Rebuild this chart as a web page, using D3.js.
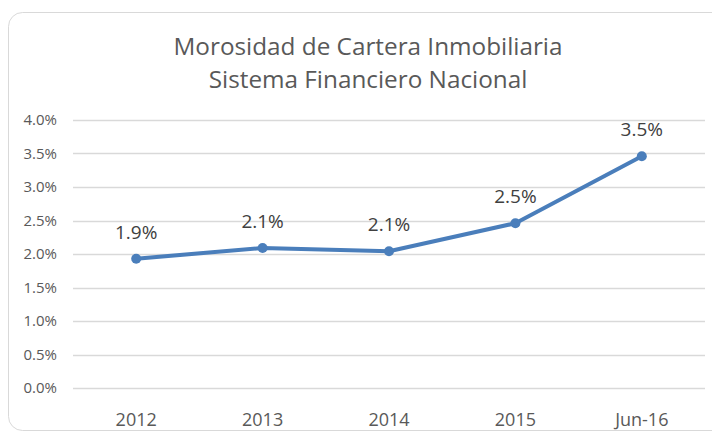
<!DOCTYPE html>
<html>
<head>
<meta charset="utf-8">
<script src="https://cdn.jsdelivr.net/npm/d3@7"></script>
<style>
  body { margin: 0; background: #fff; }
  svg text { font-family: "Open Sans", "Noto Sans", sans-serif; fill: #595959; }
</style>
</head>
<body>
<div id="chart"></div>
<script>
// data
var categories = ["2012", "2013", "2014", "2015", "Jun-16"];
var morosidad = [0.0193, 0.0209, 0.0204, 0.0246, 0.0346];
var labels = ["1.9%", "2.1%", "2.1%", "2.5%", "3.5%"];
var yTicks = [0, 0.005, 0.01, 0.015, 0.02, 0.025, 0.03, 0.035, 0.04];
var titleLines = ["Morosidad de Cartera Inmobiliaria", "Sistema Financiero Nacional"];

var W = 712, H = 434;
var margin = {top: 120, right: 7, bottom: 46, left: 73},
    width = W - margin.left - margin.right,
    height = H - margin.top - margin.bottom;

var root = d3.select("#chart").append("svg")
    .attr("width", W)
    .attr("height", H);

// outer frame
root.append("rect")
    .attr("x", 8.5).attr("y", 12.5)
    .attr("width", 720).attr("height", 418)
    .attr("rx", 14).attr("ry", 14)
    .attr("fill", "#fff")
    .attr("stroke", "#d9d9d9");

// title
root.append("text")
    .attr("text-anchor", "middle")
    .attr("font-size", "24.3px")
    .selectAll("tspan")
    .data(titleLines)
    .enter().append("tspan")
    .attr("x", 368)
    .attr("y", function(d, i) { return 55 + i * 33; })
    .text(function(d) { return d; });

var svg = root.append("g")
    .attr("transform", "translate(" + margin.left + "," + margin.top + ")");

var x = d3.scaleBand().domain(categories).range([0, width]);
var y = d3.scaleLinear().domain([0, 0.04]).range([height, 0]);

// gridlines
svg.append("g")
    .selectAll("line")
    .data(yTicks)
    .enter().append("line")
    .attr("x1", 0).attr("x2", width)
    .attr("y1", function(d) { return Math.round(y(d)) + 0.5; })
    .attr("y2", function(d) { return Math.round(y(d)) + 0.5; })
    .attr("stroke", "#d9d9d9")
    .attr("stroke-width", 1.3);

// y axis
var yAxis = svg.append("g")
    .call(d3.axisLeft(y).tickValues(yTicks).tickFormat(d3.format(".1%")).tickSize(0).tickPadding(16));
yAxis.select(".domain").remove();
yAxis.selectAll("text").attr("font-size", "15px").attr("fill", "#595959");

// x axis
var xAxis = svg.append("g")
    .attr("transform", "translate(0," + height + ")")
    .call(d3.axisBottom(x).tickSize(0).tickPadding(25));
xAxis.select(".domain").remove();
xAxis.selectAll("text").attr("font-size", "18px").attr("fill", "#595959");

var pts = categories.map(function(c, i) { return {cat: c, v: morosidad[i], lab: labels[i]}; });
var cx = function(d) { return x(d.cat) + x.bandwidth() / 2; };

// line
svg.append("path")
    .datum(pts)
    .attr("fill", "none")
    .attr("stroke", "#4a7ebb")
    .attr("stroke-width", 4)
    .attr("stroke-linejoin", "round")
    .attr("d", d3.line().x(cx).y(function(d) { return y(d.v); }));

// markers
svg.selectAll("circle")
    .data(pts)
    .enter().append("circle")
    .attr("cx", cx)
    .attr("cy", function(d) { return y(d.v); })
    .attr("r", 5)
    .attr("fill", "#4a7ebb");

// data labels
svg.selectAll(".lbl")
    .data(pts)
    .enter().append("text")
    .attr("class", "lbl")
    .attr("x", cx)
    .attr("y", function(d) { return y(d.v) - 20; })
    .attr("text-anchor", "middle")
    .attr("font-size", "19px")
    .style("fill", "#404040")
    .text(function(d) { return d.lab; });
</script>
</body>
</html>
